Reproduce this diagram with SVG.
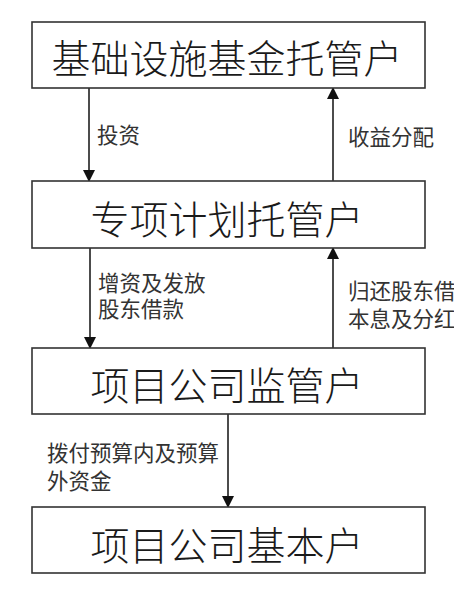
<svg xmlns="http://www.w3.org/2000/svg" width="454" height="594" viewBox="0 0 454 594">
<style>
.box{fill:#fff;stroke:#333;stroke-width:1.6}
.bt{font-family:"Noto Sans CJK SC","Noto Sans",sans-serif;font-size:39px;font-weight:300;fill:#1a1a1a;text-anchor:middle;dominant-baseline:central}
.lb{font-family:"Noto Sans CJK SC","Noto Sans",sans-serif;font-size:21.5px;fill:#333;dominant-baseline:central}
.ln{stroke:#111;stroke-width:1.5;fill:none;marker-end:url(#ah)}
</style>
<defs>
<marker id="ah" markerUnits="userSpaceOnUse" markerWidth="12" markerHeight="14" viewBox="0 0 12 14" refX="12" refY="7" orient="auto">
<path d="M0,1 L12,7 L0,13 Z" fill="#111"/>
</marker>
</defs>
<rect width="454" height="594" fill="#fff"/>
<g id="connectors">
<line class="ln" x1="89" y1="88" x2="89" y2="182"/>
<line class="ln" x1="333" y1="181" x2="333" y2="87"/>
<line class="ln" x1="90" y1="248" x2="90" y2="349"/>
<line class="ln" x1="333" y1="348" x2="333" y2="247"/>
<line class="ln" x1="228" y1="414" x2="228" y2="508"/>
<text class="lb" x="97" y="133">投资</text>
<text class="lb" x="348" y="135">收益分配</text>
<text class="lb" x="98" y="281">增资及发放<tspan x="98" dy="26">股东借款</tspan></text>
<text class="lb" x="348" y="289">归还股东借<tspan x="348" dy="27.5">本息及分红</tspan></text>
<text class="lb" x="47" y="451">拨付预算内及预算<tspan x="47" dy="28">外资金</tspan></text>
</g>
<g id="n1"><rect class="box" x="32" y="22" width="393" height="66"/><text class="bt" x="227" y="56">基础设施基金托管户</text></g>
<g id="n2"><rect class="box" x="32" y="181" width="393" height="67"/><text class="bt" x="227" y="217">专项计划托管户</text></g>
<g id="n3"><rect class="box" x="32" y="348" width="393" height="66"/><text class="bt" x="227" y="383">项目公司监管户</text></g>
<g id="n4"><rect class="box" x="32" y="507" width="393" height="66"/><text class="bt" x="227" y="543">项目公司基本户</text></g>
</svg>
